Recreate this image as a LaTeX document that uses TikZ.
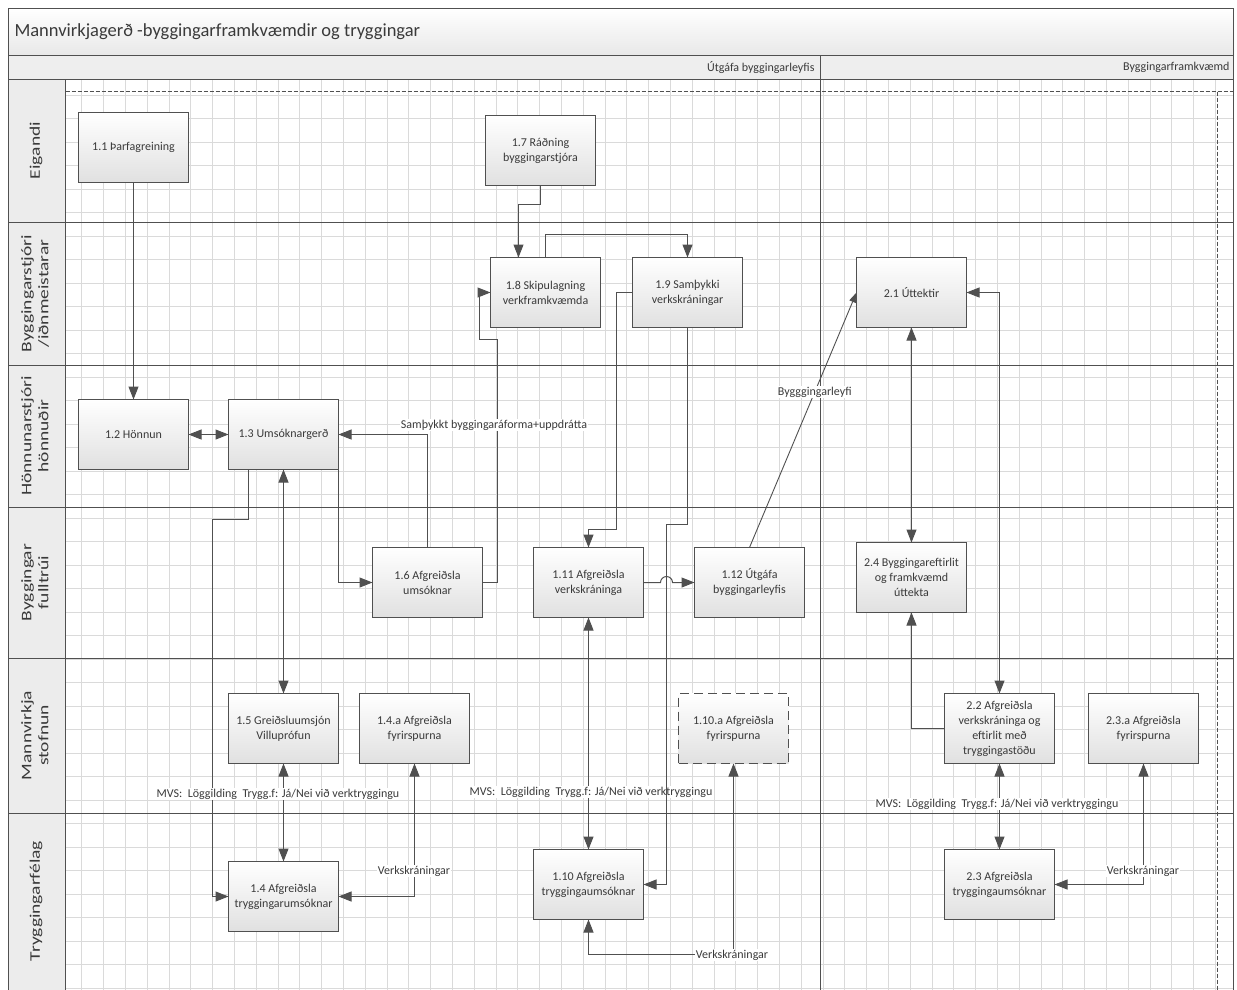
\documentclass[tikz,border=0pt]{standalone}
\usepackage{fontspec}
\setmainfont{Carlito}
\usepackage{graphicx}
\usepackage{tikz}
\usetikzlibrary{positioning,calc,arrows.meta}
\definecolor{lineclr}{HTML}{505050}
\definecolor{txtclr}{HTML}{3A3A3A}
\definecolor{gridclr}{HTML}{DADADA}
\definecolor{bandclr}{HTML}{EEEEEE}
\definecolor{colclr}{HTML}{ECECEC}
% lane titles are squeezed across, as in the drawing
\newcommand{\lanetext}[1]{\scalebox{1}[0.75]{\begin{tabular}{@{}c@{}}#1\end{tabular}}}

\begin{document}
\begin{tikzpicture}[x=1pt,y=-1pt,
    box/.style={draw=lineclr, line width=1pt, top color=white, bottom color=black!12,
        minimum width=110pt, minimum height=70pt, align=center, text=txtclr,
        font=\fontsize{12}{15}\selectfont, inner sep=2pt, outer sep=0pt},
    dashbox/.style={box, dash pattern=on 9pt off 5pt},
    lanelbl/.style={rotate=90, text=txtclr, inner sep=0pt, font=\fontsize{19.5}{22.5}\selectfont},
    lbl/.style={fill=white, inner sep=1pt, text=txtclr, font=\fontsize{12}{14}\selectfont},
    conn/.style={draw=lineclr, line width=1pt},
    arr/.style={conn, -{Triangle[length=13pt,width=10pt]}},
    dbl/.style={conn, {Triangle[length=13pt,width=10pt]}-{Triangle[length=13pt,width=10pt]}},
    arrsm/.style={conn, line width=0.9pt, -{Triangle[length=10pt,width=7pt]}},
    lane/.style={draw=lineclr, line width=1.2pt},
    phase/.style={draw=lineclr, line width=1pt, dash pattern=on 4pt off 2pt},
    gridline/.style={draw=gridclr, line width=0.8pt}
]
\useasboundingbox (0,0) rectangle (1237,989);
\clip (0,0) rectangle (1237,989);

% title and phase bands
\fill[top color=white, bottom color=black!9] (8,8) rectangle (1234,55.5);
\fill[bandclr] (8,55.5) rectangle (1234,79.5);
\fill[colclr] (8,79.5) rectangle (65.5,995);

% grid
\foreach \i in {0,...,52}
  \draw[gridline] ({81.7+\i*21.8},79.5) -- ({81.7+\i*21.8},995);
\foreach \j in {0,...,38}
  \draw[gridline] (65.5,{95+\j*23.5}) -- (1234,{95+\j*23.5});

% swimlanes
\draw[lane] (8.5,8.5) rectangle (1233.5,995);
\draw[lane] (8,55.5) -- (1234,55.5);
\draw[lane] (8,79.5) -- (1234,79.5);
\foreach \y in {222.5,365.5,507.5,658.5,813.5}
  \draw[lane] (8,\y) -- (1234,\y);
\draw[lane] (65.5,79.5) -- (65.5,995);
\draw[lane] (820.5,55.5) -- (820.5,995);
\draw[phase] (65.5,91.5) -- (1234,91.5);
\draw[phase] (1217.5,91.5) -- (1217.5,995);

\node[anchor=west, text=txtclr, font=\fontsize{18.5}{20}\selectfont] (title) at (11,31.5)
  {Mannvirkjagerð -byggingarframkvæmdir og tryggingar};
\node[anchor=east, text=txtclr, font=\fontsize{12}{14}\selectfont] (ph1) at (818,67.5) {Útgáfa byggingarleyfis};
\node[anchor=east, text=txtclr, font=\fontsize{12}{14}\selectfont] (ph2) at (1233,67.5) {Byggingarframkvæmd};

\node[lanelbl] (lEig) at (36.5,150.5) {\lanetext{Eigandi}};
\node[lanelbl] (lBst) at (36.5,293.5) {\lanetext{Byggingarstjóri\\/iðnmeistarar}};
\node[lanelbl] (lHon) at (36.5,436) {\lanetext{Hönnunarstjóri\\hönnuðir}};
\node[lanelbl] (lByf) at (36.5,582.5) {\lanetext{Byggingar\\fulltrúi}};
\node[lanelbl] (lMvs) at (36.5,735.5) {\lanetext{Mannvirkja\\stofnun}};
\node[lanelbl] (lTry) at (36.5,901) {\lanetext{Tryggingarfélag}};

% steps
\node[box] (b11) at (133.5,147.5) {1.1 Þarfagreining};
\node[box] (b17) at (540.5,150.5) {1.7 Ráðning\\byggingarstjóra};
\node[box] (b18) at (545.5,292.5) {1.8 Skipulagning\\verkframkvæmda};
\node[box] (b19) at (687.5,292.5) {1.9 Samþykki\\verkskráningar};
\node[box] (b21) at (911.5,292.5) {2.1 Úttektir};
\node[box] (b12) at (133.5,434.5) {1.2 Hönnun};
\node[box] (b13) at (283.5,434.5) {1.3 Umsóknargerð};
\node[box] (b16) at (427.5,582.5) {1.6 Afgreiðsla\\umsóknar};
\node[box] (b111) at (588.5,582.5) {1.11 Afgreiðsla\\verkskráninga};
\node[box] (b112) at (749.5,582.5) {1.12 Útgáfa\\byggingarleyfis};
\node[box] (b24) at (911.5,577.5) {2.4 Byggingareftirlit\\og framkvæmd\\úttekta};
\node[box] (b15) at (283.5,728.5) {1.5 Greiðsluumsjón\\Villuprófun};
\node[box] (b14a) at (414.5,728.5) {1.4.a Afgreiðsla\\fyrirspurna};
\node[dashbox] (b110a) at (733.5,728.5) {1.10.a Afgreiðsla\\fyrirspurna};
\node[box] (b22) at (999.5,728.5) {2.2 Afgreiðsla\\verkskráninga og\\eftirlit með\\tryggingastöðu};
\node[box] (b23a) at (1143.5,728.5) {2.3.a Afgreiðsla\\fyrirspurna};
\node[box] (b14) at (283.5,896.5) {1.4 Afgreiðsla\\tryggingarumsóknar};
\node[box] (b110) at (588.5,884.5) {1.10 Afgreiðsla\\tryggingaumsóknar};
\node[box] (b23) at (999.5,884.5) {2.3 Afgreiðsla\\tryggingaumsóknar};

% flows
\draw[arr] (b11) -- (b12);
\draw[dbl] (b12) -- (b13);
\draw[arr] (b17.south) -- ++(0,18.5) -| ($(b18.north)+(-27,0)$);
\draw[arr] (b18.north) -- ++(0,-23) -| (b19.north);
\draw[arr] (b16.east) -- ++(15,0) -- ++(0,-243) -- ++(-18,0) |- (b18.west);
\draw[arr] (b16.north) |- (b13.east);
\draw[arr] (b13.south east) |- (b16.west);
\draw[arr] ($(b13.south)+(-35,0)$) -- ++(0,50) -- ++(-36,0) |- (b14.west);
\draw[dbl] (b13) -- (b15);
\draw[dbl] (b15) -- (b14);
\draw[dbl] (b14a.south) |- (b14.east);
\draw[arr] (b19.west) -- ++(-16,0) -- ++(0,237) -| (b111.north);
\draw[dbl] (b111) -- (b110);
\node[lbl] (mvsB) at (591,792) {MVS:\ \ Löggilding\ \ Trygg.f: Já/Nei við verktryggingu};
\draw[arr] (b19.south) -- ++(0,197) -- ++(-21,0) |- (b110.east);
\draw[arr] (b111.east) -- ++(17,0) arc[start angle=180, end angle=360, radius=6] -- (b112.west);
\draw[dbl] (b110a.south) -- ++(0,191) -| (b110.south);
\draw[arrsm] (b112.north) -- node[lbl, pos=0.61] (leyfi) {Bygggingarleyfi} (b21.west);
\draw[dbl] (b21) -- (b24);
\draw[dbl] (b22.north) |- (b21.east);
\draw[arr] (b22.west) -| (b24.south);
\draw[dbl] (b22) -- (b23);
\draw[dbl] (b23a.south) |- (b23.east);

% flow labels
\node[lbl] (samth) at (494,425) {Samþykkt byggingaráforma+uppdrátta};
\node[lbl] (mvsA) at (278,794) {MVS:\ \ Löggilding\ \ Trygg.f: Já/Nei við verktryggingu};
\node[lbl] (mvsC) at (997,804) {MVS:\ \ Löggilding\ \ Trygg.f: Já/Nei við verktryggingu};
\node[lbl] (verkA) at (414,871) {Verkskráningar};
\node[lbl] (verkB) at (732,955) {Verkskráningar};
\node[lbl] (verkC) at (1143,871) {Verkskráningar};
\end{tikzpicture}
\end{document}
